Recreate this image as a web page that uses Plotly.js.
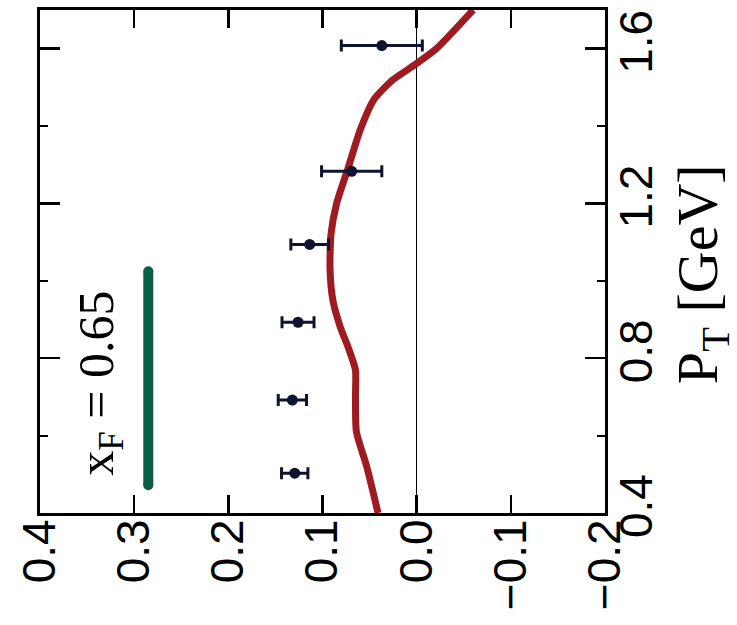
<!DOCTYPE html>
<html>
<head>
<meta charset="utf-8">
<script src="https://cdn.plot.ly/plotly-3.0.1.min.js"></script>
<style>
  html, body { margin: 0; padding: 0; background: #ffffff; overflow: hidden; }
  #chart { width: 737px; height: 625px; }
</style>
</head>
<body>
<div id="chart"></div>
<script>
// Data (chart is drawn rotated: horizontal axis = A_N, vertical axis = P_T)
const ptData  = [0.503, 0.692, 0.893, 1.094, 1.283, 1.608];
const anData  = [0.1295, 0.132, 0.126, 0.1136, 0.069, 0.037];
const anErr   = [0.014, 0.015, 0.017, 0.020, 0.032, 0.043];

const curvePt = [0.40, 0.52, 0.61, 0.70, 0.77, 0.83, 0.88, 0.95, 1.03, 1.12, 1.20, 1.29, 1.39, 1.47, 1.52, 1.56, 1.60, 1.70];
const curveAn = [0.041, 0.053, 0.064, 0.065, 0.065, 0.073, 0.081, 0.089, 0.092, 0.091, 0.085, 0.073, 0.060, 0.045, 0.025, 0.001, -0.021, -0.060];

const legendPt = [0.472, 1.025];
const legendAn = [0.285, 0.285];

const anTicks = [0.4, 0.3, 0.2, 0.1, 0.0, -0.1, -0.2];
const ptTicks = [0.4, 0.8, 1.2, 1.6];

const traces = [
  {
    x: curveAn, y: curvePt, type: 'scatter', mode: 'lines',
    line: { color: '#9e1b20', width: 7, shape: 'spline', smoothing: 0.6 },
    hoverinfo: 'skip', showlegend: false
  },
  {
    x: legendAn, y: legendPt, type: 'scatter', mode: 'lines+markers',
    line: { color: '#0d5e47', width: 10 },
    marker: { color: '#0d5e47', size: 10 },
    hoverinfo: 'skip', showlegend: false
  },
  {
    x: anData, y: ptData, type: 'scatter', mode: 'markers',
    marker: { color: '#0e1430', size: 11 },
    error_x: { type: 'data', array: anErr, visible: true, color: '#0e1430', thickness: 3, width: 6 },
    showlegend: false
  }
];

const layout = {
  width: 737, height: 625,
  margin: { l: 40, r: 132, t: 10, b: 112 },
  paper_bgcolor: '#ffffff', plot_bgcolor: '#ffffff',
  showlegend: false,
  font: { family: 'Liberation Sans, Arial, sans-serif', color: '#000000' },
  xaxis: {
    range: [0.4, -0.2],
    tickvals: anTicks,
    ticktext: anTicks.map(v => v.toFixed(1).replace('-', '\u2212')),
    tickangle: -90,
    ticks: 'inside', ticklen: 18, tickwidth: 2.5, tickcolor: '#000',
    showline: true, linewidth: 3, linecolor: '#000', mirror: 'allticks',
    showgrid: false,
    zeroline: true, zerolinecolor: '#000', zerolinewidth: 1.5,
    tickfont: { family: 'Liberation Sans, Arial, sans-serif', size: 46, color: '#000' },
    ticklabelstandoff: -15
  },
  yaxis: {
    range: [0.4, 1.70],
    side: 'right',
    tickvals: ptTicks,
    ticktext: ptTicks.map(v => v.toFixed(1)),
    tickangle: -90,
    ticks: 'inside', ticklen: 20, tickwidth: 2.5, tickcolor: '#000',
    minor: { dtick: 0.2, tick0: 0.4, ticks: 'inside', ticklen: 8, tickwidth: 2, tickcolor: '#000' },
    showline: true, linewidth: 3, linecolor: '#000', mirror: 'allticks',
    showgrid: false, zeroline: false,
    tickfont: { family: 'Liberation Sans, Arial, sans-serif', size: 46, color: '#000' },
    ticklabelstandoff: -11
  },
  annotations: [
    {
      x: 0.336, y: 0.735, xref: 'x', yref: 'y', xanchor: 'center', yanchor: 'middle',
      text: 'x<sub>F</sub> = 0.65', showarrow: false, textangle: -90,
      font: { family: 'Liberation Serif, Times New Roman, serif', size: 50, color: '#000' }
    },
    {
      x: 1.17, y: 0.475, xref: 'paper', yref: 'paper', xanchor: 'center', yanchor: 'middle',
      text: 'P<sub>T</sub> [GeV]', showarrow: false, textangle: -90,
      font: { family: 'Liberation Serif, Times New Roman, serif', size: 58, color: '#000' }
    }
  ]
};

Plotly.newPlot('chart', traces, layout, { displayModeBar: false, staticPlot: true });
</script>
</body>
</html>
